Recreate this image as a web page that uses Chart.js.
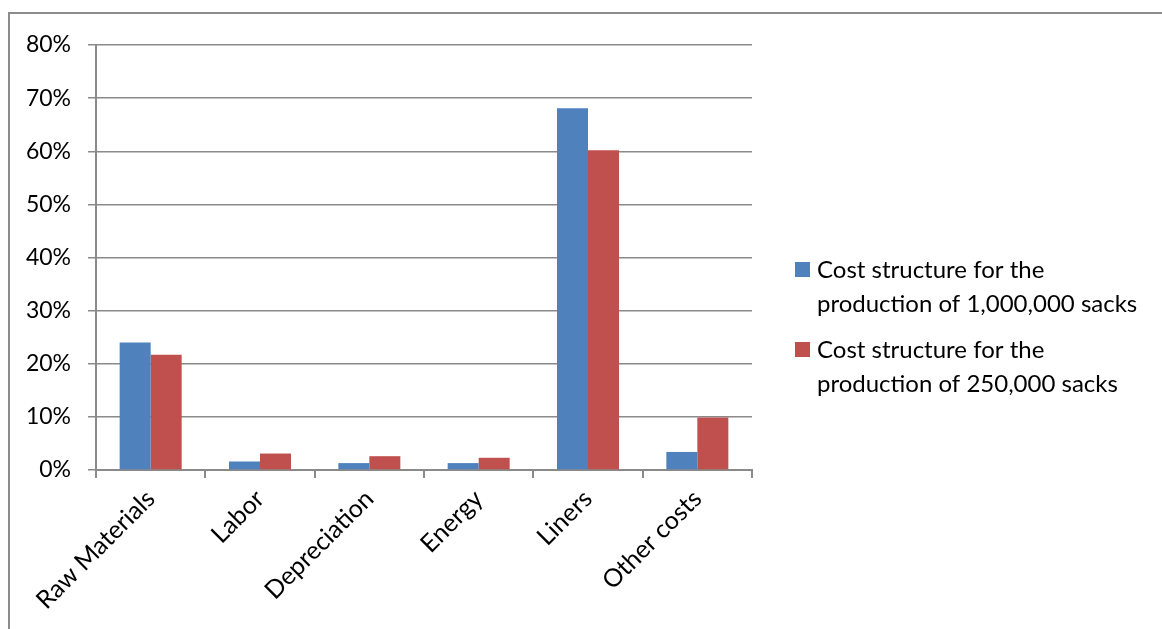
<!DOCTYPE html>
<html>
<head>
<meta charset="utf-8">
<script src="https://cdn.jsdelivr.net/npm/chart.js@4"></script>
<style>
  html, body { margin: 0; padding: 0; background: #fff; }
  #wrap { position: relative; width: 1162px; height: 629px; overflow: hidden; }
  #frame { position: absolute; left: 8px; top: 12px; width: 1170px; height: 700px; border: 2px solid #8c8c8c; box-sizing: border-box; }
  #chart { position: absolute; left: 0; top: 0; }
</style>
</head>
<body>
<div id="wrap">
  <div id="frame"></div>
  <canvas id="chart" width="1162" height="629"></canvas>
</div>
<script>
// cost categories and shares (%)
const categories = ['Raw Materials', 'Labor', 'Depreciation', 'Energy', 'Liners', 'Other costs'];
const sacks1M = [24.0, 1.6, 1.3, 1.3, 68.1, 3.4];
const sacks250k = [21.7, 3.1, 2.6, 2.3, 60.2, 9.9];
const seriesNames = [
  ['Cost structure for the', 'production of 1,000,000 sacks'],
  ['Cost structure for the', 'production of 250,000 sacks']
];
const yTicks = [0, 10, 20, 30, 40, 50, 60, 70, 80];

const FONT = 'Lato, "Liberation Sans", sans-serif';
const gridColor = '#8a8a8a';

// legend drawn to the right of the plot, wrapped over two lines
const sideLegend = {
  id: 'sideLegend',
  afterDraw(chart) {
    const ctx = chart.ctx;
    ctx.save();
    ctx.font = '24px ' + FONT;
    ctx.textBaseline = 'middle';
    const x = 795;
    let y = 270;
    chart.data.datasets.forEach(ds => {
      ctx.fillStyle = ds.backgroundColor;
      ctx.fillRect(x, y - 8, 15, 15);
      ctx.fillStyle = '#000';
      ds.labelLines.forEach((line, j) => {
        ctx.fillText(line, x + 22, y + j * 34);
      });
      y += 80;
    });
    ctx.restore();
  }
};

new Chart(document.getElementById('chart'), {
  type: 'bar',
  data: {
    labels: categories,
    datasets: [
      { data: sacks1M, backgroundColor: '#4F81BD', labelLines: seriesNames[0] },
      { data: sacks250k, backgroundColor: '#C0504D', labelLines: seriesNames[1] }
    ]
  },
  options: {
    responsive: false,
    animation: false,
    categoryPercentage: 0.567,
    barPercentage: 1.0,
    layout: { padding: { left: 10, top: 45, right: 410, bottom: 0 } },
    plugins: {
      legend: { display: false },
      tooltip: { enabled: false }
    },
    scales: {
      x: {
        grid: {
          offset: true,
          drawOnChartArea: false,
          drawTicks: true,
          tickLength: 8,
          color: gridColor,
          lineWidth: 2
        },
        border: { color: gridColor, width: 2 },
        ticks: {
          color: '#000',
          font: { family: FONT, size: 25 },
          minRotation: 45,
          maxRotation: 45,
          padding: 6
        },
        afterFit(scale) { scale.height = 159; }
      },
      y: {
        min: 0,
        max: 80,
        afterBuildTicks(scale) { scale.ticks = yTicks.map(v => ({ value: v })); },
        grid: {
          color: gridColor,
          lineWidth: 1.5,
          tickLength: 8
        },
        border: { color: gridColor, width: 2 },
        ticks: {
          color: '#000',
          font: { family: FONT, size: 23 },
          padding: 17,
          callback: v => v + '%'
        },
        afterFit(scale) { scale.width = 86; }
      }
    }
  },
  plugins: [sideLegend]
});
</script>
</body>
</html>
